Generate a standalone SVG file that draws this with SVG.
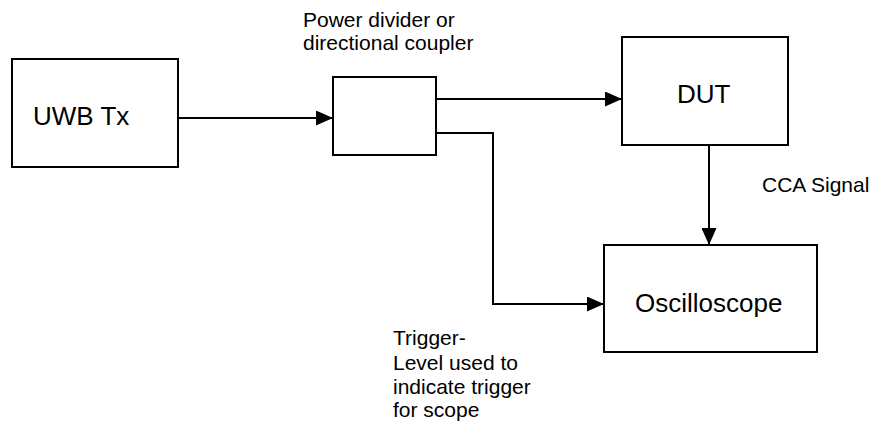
<svg xmlns="http://www.w3.org/2000/svg" width="872" height="421" viewBox="0 0 872 421">
<style>
.box{fill:#fff;stroke:#000;stroke-width:2}
.wire{fill:none;stroke:#000;stroke-width:2}
.big{font-family:"Liberation Sans",Arial,sans-serif;font-size:26px;fill:#000}
.small{font-family:"Liberation Sans",Arial,sans-serif;font-size:21px;fill:#000}
</style>
<defs>
<marker id="arr" markerUnits="userSpaceOnUse" markerWidth="17" markerHeight="15" refX="17" refY="7.5" orient="auto">
<path d="M0,0 L17,7.5 L0,15 z" fill="#000"/>
</marker>
</defs>
<rect width="872" height="421" fill="#fff"/>
<g id="connectors">
<path class="wire" d="M178,118 L333,118" marker-end="url(#arr)"/>
<path class="wire" d="M436,99 L622,99" marker-end="url(#arr)"/>
<path class="wire" d="M436,133 L493,133 L493,304 L604,304" marker-end="url(#arr)"/>
<path class="wire" d="M709,145 L709,245" marker-end="url(#arr)"/>
</g>
<g id="uwb-tx">
<rect class="box" x="12" y="59" width="166" height="108"/>
<text class="big" x="33" y="125">UWB Tx</text>
</g>
<g id="divider">
<rect class="box" x="333" y="77" width="103" height="78"/>
</g>
<g id="divider-label">
<text class="small" x="303" y="27">Power divider or</text>
<text class="small" x="303" y="50">directional coupler</text>
</g>
<g id="dut">
<rect class="box" x="622" y="37" width="166" height="108"/>
<text class="big" x="677" y="103">DUT</text>
</g>
<g id="oscilloscope">
<rect class="box" x="604" y="245" width="213" height="107"/>
<text class="big" x="635" y="312">Oscilloscope</text>
</g>
<g id="cca-label">
<text class="small" x="762" y="192">CCA Signal</text>
</g>
<g id="trigger-label">
<text class="small" x="393" y="345">Trigger-</text>
<text class="small" x="393" y="370">Level used to</text>
<text class="small" x="393" y="394">indicate trigger</text>
<text class="small" x="393" y="417">for scope</text>
</g>
</svg>
